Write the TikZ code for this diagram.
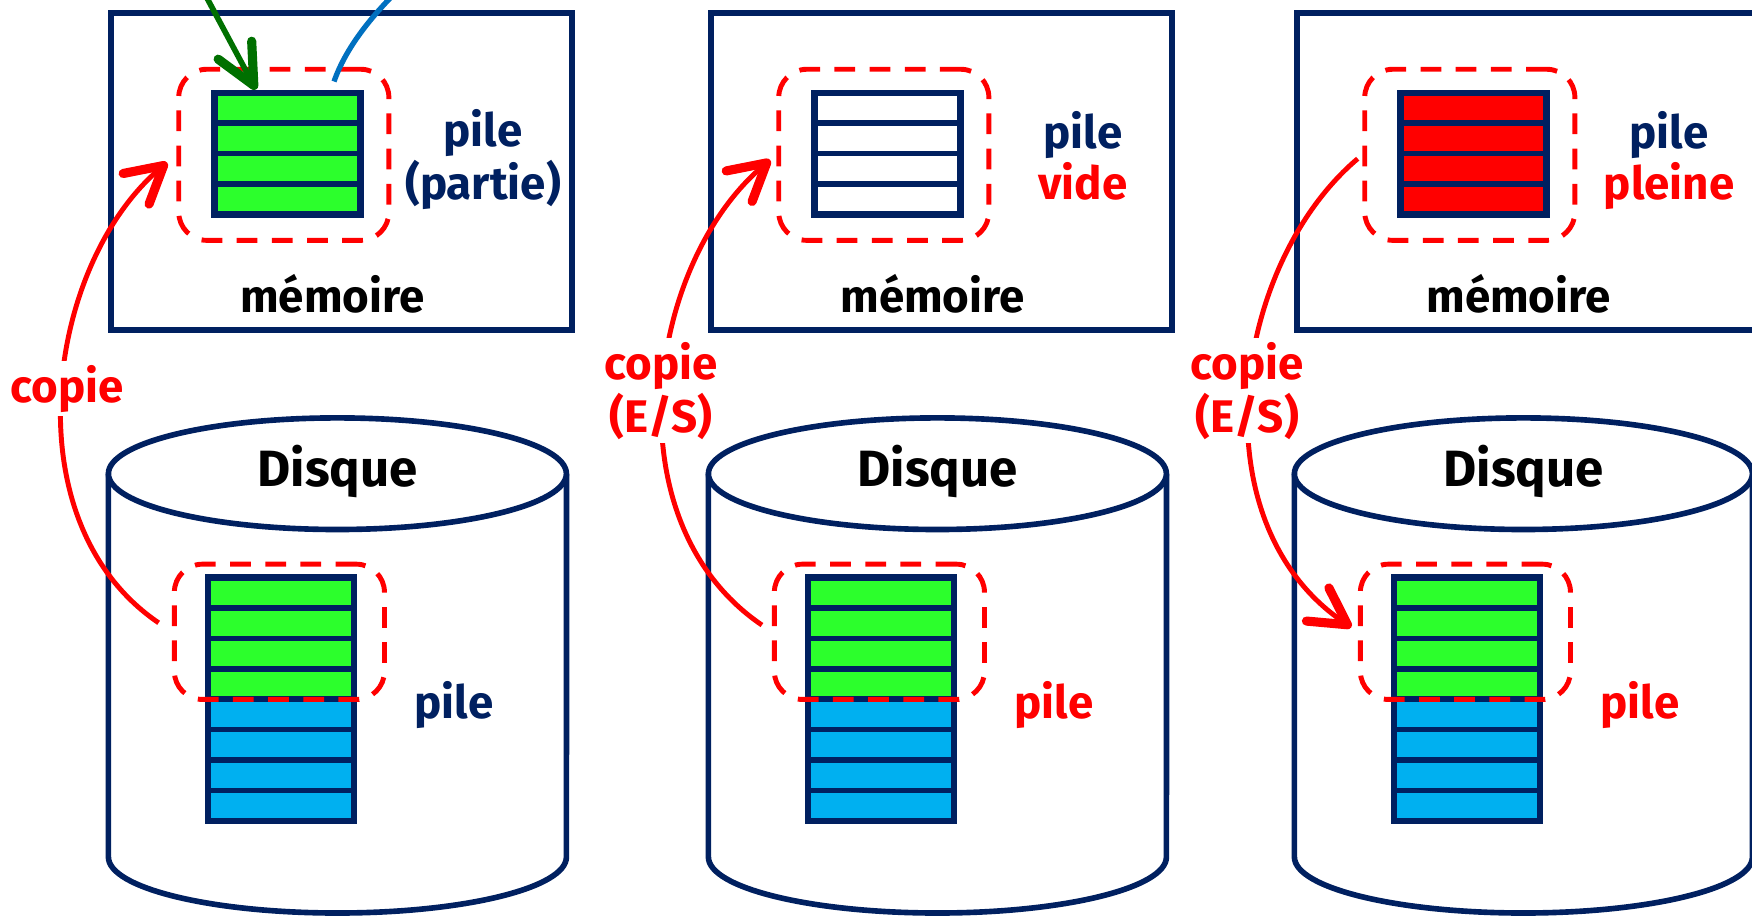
\documentclass[tikz,border=0pt]{standalone}
\usepackage{fontspec}
\setmainfont{Fira Sans}
\usepackage{xcolor}
\definecolor{marine}{HTML}{002060}
\definecolor{rouge}{HTML}{FF0000}
\definecolor{vertvif}{HTML}{2CFF2C}
\definecolor{bleuciel}{HTML}{00B0F0}
\definecolor{vertfonce}{HTML}{007000}
\definecolor{bleumoyen}{HTML}{0070C0}
\usetikzlibrary{arrows.meta}

\begin{document}
\begin{tikzpicture}[x=0.01cm,y=-0.01cm,
  memoire/.style={draw=marine,line width=1.7pt,minimum width=4.61cm,minimum height=3.166cm},
  zone/.style={draw=rouge,line width=1.4pt,dash pattern=on 5.9pt off 4.1pt,rounded corners=8pt,minimum width=2.1cm,inner sep=0pt},
  cadrepile/.style={draw=marine,line width=1.8pt,minimum width=1.46cm,inner sep=0pt},
  case/.style={draw=marine,line width=1.6pt},
  disque/.style={draw=marine,line width=1.6pt,fill=white},
  texte/.style={font=\fontsize{13}{11.7}\selectfont\bfseries,align=center,anchor=base},
  grand/.style={font=\fontsize{14.5}{16}\selectfont\bfseries,anchor=base},
  lab/.style={font=\fontsize{13}{13.3}\selectfont\bfseries,align=center,anchor=base,text=rouge,fill=white,inner sep=1pt},
  copie/.style={-{Straight Barb[length=3.6mm,width=4mm,line width=2.6pt,round]},rouge,line width=1.4pt},
  empile/.style={-{Straight Barb[length=4mm,width=3.8mm,line width=2.6pt,round]},vertfonce,line width=1.6pt},
  depile/.style={bleumoyen,line width=1.5pt}
]
\useasboundingbox (0,0) rectangle (1752,915);
\fill[white] (0,0) rectangle (1752,915);
\clip (0,0) rectangle (1752,915);
% memoires
\node[memoire] (mem1) at (341.2,171.7) {};
\node[memoire] (mem2) at (941.2,171.7) {};
\node[memoire] (mem3) at (1527.2,171.7) {};
% piles en memoire
\foreach \i in {0,...,3} {
  \draw[case,fill=vertvif] (214.5,{92.7+30.4*\i}) rectangle ++(146,30.4);
  \draw[case,fill=white] (814.5,{92.7+30.4*\i}) rectangle ++(146,30.4);
  \draw[case,fill=rouge] (1400.5,{92.7+30.4*\i}) rectangle ++(146,30.4);
}
\node[cadrepile,minimum height=1.216cm] (pm1) at (287.5,153.5) {};
\node[cadrepile,minimum height=1.216cm] (pm2) at (887.5,153.5) {};
\node[cadrepile,minimum height=1.216cm] (pm3) at (1473.5,153.5) {};
% disques
\draw[disque] (108.4,473.7) -- (108.4,857) arc[start angle=180,end angle=0,x radius=229,y radius=56] -- (566.5,473.7);
\draw[disque] (337.4,473.7) ellipse[x radius=229,y radius=55.8];
\draw[disque] (708.4,473.7) -- (708.4,857) arc[start angle=180,end angle=0,x radius=229,y radius=56] -- (1166.5,473.7);
\draw[disque] (937.4,473.7) ellipse[x radius=229,y radius=55.8];
\draw[disque] (1294.4,473.7) -- (1294.4,857) arc[start angle=180,end angle=0,x radius=229,y radius=56] -- (1752.4,473.7);
\draw[disque] (1523.4,473.7) ellipse[x radius=229,y radius=55.8];
% piles sur disque
\foreach \x in {207.8,807.8,1393.8} {
  \foreach \i in {0,...,3}
    \draw[case,fill=vertvif] (\x,{577.6+30.4*\i}) rectangle ++(146,30.4);
  \foreach \i in {4,...,7}
    \draw[case,fill=bleuciel] (\x,{577.6+30.4*\i}) rectangle ++(146,30.4);
}
\node[cadrepile,minimum height=2.432cm] (pd1) at (280.8,699.2) {};
\node[cadrepile,minimum height=2.432cm] (pd2) at (880.8,699.2) {};
\node[cadrepile,minimum height=2.432cm] (pd3) at (1466.8,699.2) {};
% zones copiees
\node[zone,minimum height=1.71cm] (zm1) at (283.8,154.8) {};
\node[zone,minimum height=1.71cm] (zm2) at (883.8,154.8) {};
\node[zone,minimum height=1.71cm] (zm3) at (1469.8,154.8) {};
\node[zone,minimum height=1.352cm] (zd1) at (279.4,631.8) {};
\node[zone,minimum height=1.352cm] (zd2) at (879.4,631.8) {};
\node[zone,minimum height=1.352cm] (zd3) at (1465.4,631.8) {};
% textes
\node[texte,text=marine] (tp1) at (483,199) {pile\\(partie)};
\node[texte,text=marine] (tp2) at (1083,199) {pile\\\textcolor{rouge}{vide}};
\node[texte,text=marine] (tp3) at (1669,199) {pile\\\textcolor{rouge}{pleine}};
\node[texte] (tm1) at (332.5,312.7) {mémoire};
\node[texte] (tm2) at (932.5,312.7) {mémoire};
\node[texte] (tm3) at (1518.5,312.7) {mémoire};
\node[grand] (td1) at (337.8,486.7) {Disque};
\node[grand] (td2) at (937.8,486.7) {Disque};
\node[grand] (td3) at (1523.8,486.7) {Disque};
\node[texte,text=marine] (tb1) at (454,718.3) {pile};
\node[texte,text=rouge] (tb2) at (1054,718.3) {pile};
\node[texte,text=rouge] (tb3) at (1640,718.3) {pile};
% empiler / depiler
\coordinate (haut1) at (200,-15);
\coordinate (haut2) at (414,-25);
\draw[empile] (haut1) -- ([xshift=-0.315cm]pm1.north);
\draw[depile] (haut2) .. controls (370,15) and (345,50) .. ([xshift=0.465cm,yshift=0.08cm]pm1.north);
% copies
\draw[copie,shorten <=1.6mm,shorten >=1.2mm] (zd1.west) .. controls +(-162,-110) and +(-130,110) .. (zm1.west);
\draw[copie,shorten <=1.2mm,shorten >=0.8mm] (zd2.west) .. controls +(-162,-110) and +(-130,110) .. (zm2.west);
\draw[copie,shorten <=0.6mm,shorten >=0.8mm] (zm3.west) .. controls +(-130,110) and +(-162,-110) .. (zd3.west);
\node[lab] (lc1) at (67,402) {copie};
\node[lab] (lc2) at (661,432) {copie\\(E/S)};
\node[lab] (lc3) at (1247,432) {copie\\(E/S)};
\end{tikzpicture}
\end{document}
